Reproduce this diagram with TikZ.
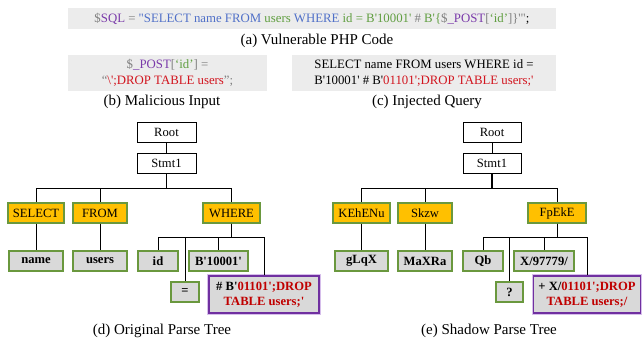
\documentclass[tikz,border=0pt]{standalone}
\usepackage{fontspec}
\setmainfont{Liberation Serif}[Ligatures=TeXOff]
\usepackage{tikz}
\usetikzlibrary{positioning}

\definecolor{codebg}{RGB}{236,236,236}
\definecolor{cgray}{RGB}{128,128,128}
\definecolor{cblue}{RGB}{80,112,200}
\definecolor{cgreen}{RGB}{96,158,64}
\definecolor{cpurple}{RGB}{122,58,170}
\definecolor{cred}{RGB}{210,20,30}
\definecolor{dred}{RGB}{192,0,0}
\definecolor{korange}{RGB}{255,192,0}
\definecolor{tgreen}{RGB}{106,152,62}
\definecolor{lgray}{RGB}{217,217,217}
\definecolor{dpurple}{RGB}{112,48,160}
\definecolor{lpurple}{RGB}{214,190,235}

\newcommand{\codefont}{\fontsize{12.8}{16}\selectfont}
\newcommand{\capfont}{\fontsize{15}{18}\selectfont}
\newcommand{\treefont}{\fontsize{12.6}{15}\selectfont}

\tikzset{
  codebox/.style={fill=codebg, inner sep=0pt, align=center, font=\codefont},
  caption/.style={font=\capfont, inner sep=0pt},
  plainnode/.style={draw=black, fill=white, line width=0.8pt, inner sep=0pt,
    minimum height=20pt, font=\treefont},
  keynode/.style={draw=tgreen, fill=korange, line width=1.2pt, inner sep=0pt,
    minimum height=20pt, font=\treefont},
  leafnode/.style={draw=tgreen, fill=lgray, line width=1.2pt, inner sep=0pt,
    minimum height=20pt, font=\treefont\bfseries},
  dropnode/.style={draw=dpurple, fill=lgray, line width=1.3pt, inner sep=0pt,
    minimum height=37pt, align=center, font=\treefont\bfseries,
    preaction={draw=lpurple, line width=3.5pt}},
  edge/.style={line width=0.8pt},
  trunk/.style={line width=1.4pt}
}

\begin{document}
\begin{tikzpicture}[x=1pt, y=-1pt]
\useasboundingbox (0,0) rectangle (642,338);

% Code boxes
\node[codebox, minimum width=488pt, minimum height=21pt] (php) at (312,18.5)
  {\textcolor{cgray}{\$}\textcolor{cpurple}{SQL} \textcolor{cgray}{=}
   \textcolor{cblue}{"SELECT name FROM} \textcolor{cgreen}{users}
   \textcolor{cblue}{WHERE} \textcolor{cgreen}{id = B'10001'}
   \textcolor{cgray}{\#} \textcolor{cgreen}{B'\{}\textcolor{cgray}{\$}\textcolor{cpurple}{\_POST}\textcolor{cgray}{[}\textcolor{cgreen}{‘id’}\textcolor{cgray}{]\}'"};};
\node[caption] (capa) at (317,41) {(a) Vulnerable PHP Code};

\node[codebox, minimum width=199pt, minimum height=36pt] (input) at (167.5,73)
  {\textcolor{cgray}{\$}\textcolor{cpurple}{\_POST}\textcolor{cgray}{[}\textcolor{cgreen}{‘id’}\textcolor{cgray}{] =}\\
   \textcolor{cgray}{“}\textcolor{cred}{\textbackslash';DROP TABLE users}\textcolor{cgray}{”;}};
\node[caption] (capb) at (162,102) {(b) Malicious Input};

\node[codebox, minimum width=264pt, minimum height=36pt] (query) at (424,73)
  {SELECT name FROM users WHERE id =\\
   B'10001' \# B'\textcolor{cred}{01101';DROP TABLE users;'}};
\node[caption] (capc) at (427,102) {(c) Injected Query};

% Original parse tree
\node[plainnode, minimum width=59pt] (rootd) at (166.5,132) {Root};
\node[plainnode, minimum width=59pt] (stmtd) at (166.5,163) {Stmt1};
\node[keynode, minimum width=56pt] (seld) at (36,213) {SELECT};
\node[keynode, minimum width=54pt] (fromd) at (100,213) {FROM};
\node[keynode, minimum width=57pt] (whered) at (231.5,213) {WHERE};
\node[leafnode, minimum width=54pt] (named) at (36,261) {name};
\node[leafnode, minimum width=54pt] (usersd) at (100,261) {users};
\node[leafnode, minimum width=40pt] (idd) at (158,261) {id};
\node[leafnode, minimum width=59pt] (bitd) at (218.5,261) {B'10001'};
\node[leafnode, minimum width=28pt] (eqd) at (185,292) {=};
\node[dropnode, minimum width=110pt] (dropd) at (264,294.5)
  {\# B'\textcolor{dred}{01101';DROP}\\\textcolor{dred}{TABLE users;'}};

\draw[edge] (rootd) -- (stmtd);
\draw[trunk] (stmtd.south) -- ++(0,15);
\draw[edge] (stmtd.south) -- ++(0,15) -| (seld.north);
\draw[edge] (stmtd.south) -- ++(0,15) -| (fromd.north);
\draw[edge] (stmtd.south) -- ++(0,15) -| (whered.north);
\draw[edge] (seld) -- (named);
\draw[edge] (fromd) -- (usersd);
\draw[edge] (whered.south) -- ++(0,14) -| (idd.north);
\draw[edge] (whered.south) -- ++(0,14) -| (eqd.north);
\draw[edge] (whered.south) -- ++(0,14) -| (bitd.north);
\draw[edge] (whered.south) -- ++(0,14) -| (dropd.north);
\node[caption] (capd) at (162,331) {(d) Original Parse Tree};

% Shadow parse tree
\node[plainnode, minimum width=58pt] (roote) at (492,132) {Root};
\node[plainnode, minimum width=58pt] (stmte) at (492,163) {Stmt1};
\node[keynode, minimum width=57pt] (kehe) at (361.5,213) {KEhENu};
\node[keynode, minimum width=54pt] (skzw) at (425,213) {Skzw};
\node[keynode, minimum width=58pt] (fpeke) at (557,213) {FpEkE};
\node[leafnode, minimum width=53pt] (glqx) at (361.5,261) {gLqX};
\node[leafnode, minimum width=54pt] (maxra) at (425,261) {MaXRa};
\node[leafnode, minimum width=40pt] (qb) at (483,261) {Qb};
\node[leafnode, minimum width=60pt] (xnum) at (544,261) {X/97779/};
\node[leafnode, minimum width=27pt] (qm) at (509.5,292) {?};
\node[dropnode, minimum width=107pt] (drope) at (587,294.5)
  {+ X/\textcolor{dred}{01101';DROP}\\\textcolor{dred}{TABLE users;/}};

\draw[edge] (roote) -- (stmte);
\draw[trunk] (stmte.south) -- ++(0,15);
\draw[edge] (stmte.south) -- ++(0,15) -| (kehe.north);
\draw[edge] (stmte.south) -- ++(0,15) -| (skzw.north);
\draw[edge] (stmte.south) -- ++(0,15) -| (fpeke.north);
\draw[edge] (kehe) -- (glqx);
\draw[edge] (skzw) -- (maxra);
\draw[edge] (fpeke.south) -- ++(0,14) -| (qb.north);
\draw[edge] (fpeke.south) -- ++(0,14) -| (qm.north);
\draw[edge] (fpeke.south) -- ++(0,14) -| (xnum.north);
\draw[edge] (fpeke.south) -- ++(0,14) -| (drope.north);
\node[caption] (cape) at (489,331) {(e) Shadow Parse Tree};
\end{tikzpicture}
\end{document}
